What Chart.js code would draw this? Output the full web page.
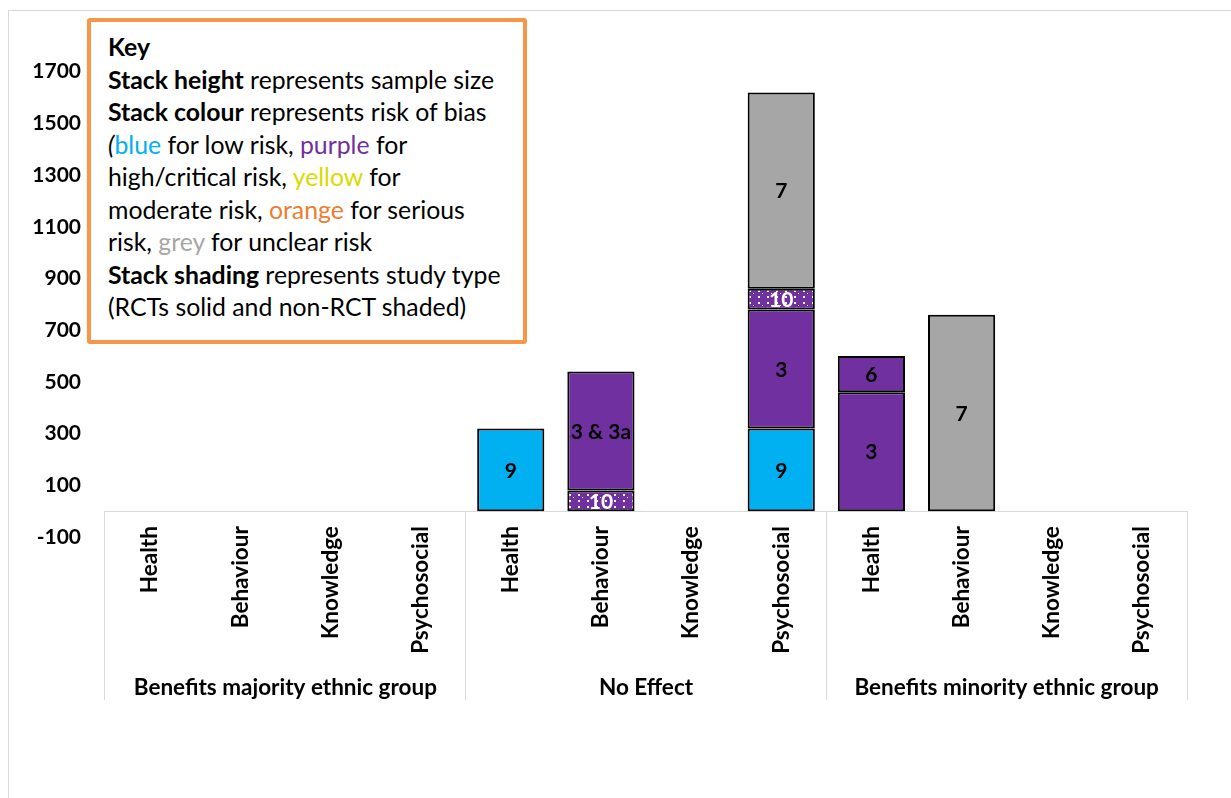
<!DOCTYPE html>
<html>
<head>
<meta charset="utf-8">
<title>Sample size by outcome and effect direction</title>
<script src="https://cdn.jsdelivr.net/npm/chart.js@4/dist/chart.umd.min.js"></script>
<style>
  html, body { margin: 0; padding: 0; background: #fff; }
  #wrap { position: relative; width: 1231px; height: 798px; overflow: hidden; }
  #frame { position: absolute; left: 8px; top: 10px; width: 1400px; height: 1000px;
           border-top: 1px solid #d9d9d9; border-left: 1px solid #d9d9d9; }
  #chart { position: absolute; left: 0; top: 0; }
  #key { position: absolute; left: 87px; top: 18px; width: 440px; height: 326px;
         box-sizing: border-box; border: 4px solid #F79646; border-radius: 3px; background: #fff;
         padding: 9px 0 0 17px; font-family: Lato, "Open Sans", sans-serif; font-size: 24.8px;
         line-height: 32.5px; color: #000; white-space: nowrap; }
  #key b { font-weight: 700; }
  .c-blue { color: #00B0F0; }
  .c-purple { color: #7030A0; }
  .c-yellow { color: #DADA00; }
  .c-orange { color: #ED7D31; }
  .c-grey { color: #A6A6A6; }
</style>
</head>
<body>
<div id="wrap">
  <div id="frame"></div>
  <canvas id="chart" width="1231" height="798"></canvas>
  <div id="key">
    <div><b>Key</b></div>
    <div><b>Stack height</b> represents sample size</div>
    <div><b>Stack colour</b> represents risk of bias</div>
    <div><i>(</i><span class="c-blue">blue</span> for low risk, <span class="c-purple">purple</span> for</div>
    <div>high/critical risk, <span class="c-yellow">yellow</span> for</div>
    <div>moderate risk, <span class="c-orange">orange</span> for serious</div>
    <div>risk, <span class="c-grey">grey</span> for unclear risk</div>
    <div><b>Stack shading</b> represents study type</div>
    <div>(RCTs solid and non-RCT shaded)</div>
  </div>
</div>
<script>
// Outcome categories within each effect-direction group
const categories = [
  'Health', 'Behaviour', 'Knowledge', 'Psychosocial',
  'Health', 'Behaviour', 'Knowledge', 'Psychosocial',
  'Health', 'Behaviour', 'Knowledge', 'Psychosocial'
];
const groups = ['Benefits majority ethnic group', 'No Effect', 'Benefits minority ethnic group'];
const yTickValues = [-100, 100, 300, 500, 700, 900, 1100, 1300, 1500, 1700];

// Sample size contributed by each study (stacked bottom to top in this order)
const study9      = [null, null, null, null,  320, null, null, 320,  null, null, null, null];
const study3      = [null, null, null, null,  null, null, null, 460,  460, null, null, null];
const study10     = [null, null, null, null,  null, 80,   null, 80,   null, null, null, null];
const study3and3a = [null, null, null, null,  null, 460,  null, null, null, null, null, null];
const study6      = [null, null, null, null,  null, null, null, null, 140, null, null, null];
const study7      = [null, null, null, null,  null, null, null, 760,  null, 760,  null, null];

const BLUE = '#00B0F0', PURPLE = '#7030A0', GREY = '#A6A6A6';

// Purple fill with white dots for non-randomised studies
function dottedFill() {
  const c = document.createElement('canvas');
  c.width = 9; c.height = 12;
  const g = c.getContext('2d');
  g.fillStyle = PURPLE; g.fillRect(0, 0, 9, 12);
  g.fillStyle = '#ffffff';
  g.fillRect(2, 2, 2, 2);
  g.fillRect(2, 8, 2, 2);
  g.fillRect(6, 5, 1, 1);
  return g.createPattern(c, 'repeat');
}

// Study number written in the middle of each stack segment
const segmentLabels = {
  id: 'segmentLabels',
  afterDatasetsDraw(chart) {
    const ctx = chart.ctx;
    chart.data.datasets.forEach((ds, i) => {
      const meta = chart.getDatasetMeta(i);
      meta.data.forEach((bar, j) => {
        if (ds.data[j] == null) return;
        const p = bar.getProps(['x', 'y', 'base'], true);
        ctx.save();
        ctx.font = 'bold 21px Lato';
        ctx.fillStyle = ds.labelColor;
        ctx.textAlign = 'center';
        ctx.textBaseline = 'middle';
        ctx.fillText(ds.label, p.x, (p.y + p.base) / 2 + 1);
        ctx.restore();
      });
    });
  }
};

function makeDataset(label, data, fill, labelColor) {
  return {
    label, data, labelColor,
    backgroundColor: fill,
    borderColor: '#000',
    borderWidth: 2,
    borderSkipped: false,
    barPercentage: 0.745,
    categoryPercentage: 1.0,
    xAxisID: 'x'
  };
}

function draw() {
  const dots = dottedFill();
  new Chart(document.getElementById('chart'), {
    type: 'bar',
    data: {
      labels: categories,
      datasets: [
        makeDataset('9', study9, BLUE, '#000'),
        makeDataset('3', study3, PURPLE, '#000'),
        makeDataset('10', study10, dots, '#fff'),
        makeDataset('3 & 3a', study3and3a, PURPLE, '#000'),
        makeDataset('6', study6, PURPLE, '#000'),
        makeDataset('7', study7, GREY, '#000')
      ]
    },
    options: {
      responsive: false,
      animation: false,
      layout: { padding: { left: 0, right: 44, top: 20, bottom: 261 } },
      plugins: { legend: { display: false }, tooltip: { enabled: false } },
      scales: {
        y: {
          stacked: true,
          min: -100,
          max: 1900,
          afterBuildTicks: s => { s.ticks = yTickValues.map(v => ({ value: v })); },
          afterFit: s => { s.width = 105; s.paddingTop = 0; s.paddingBottom = 0; },
          grid: { display: false, drawTicks: false },
          border: { display: false },
          ticks: {
            padding: 24, color: '#000',
            font: { family: 'Lato', weight: 'bold', size: 21 },
            callback: v => String(v)
          }
        },
        x: {
          stacked: true,
          position: { y: 0 },
          offset: true,
          grid: { display: false, drawTicks: false },
          border: { display: true, color: '#d9d9d9', width: 1 },
          ticks: {
            autoSkip: false, minRotation: 90, maxRotation: 90, padding: 15,
            color: '#000', font: { family: 'Lato', weight: 'bold', size: 22.5 }
          }
        },
        x2: {
          type: 'category',
          labels: groups,
          position: { y: 0 },
          offset: true,
          grid: { display: true, offset: true, drawOnChartArea: false, drawTicks: true,
                  tickLength: 189, color: '#d9d9d9', lineWidth: 1 },
          border: { display: false },
          ticks: { padding: -26, color: '#000', font: { family: 'Lato', weight: 'bold', size: 22.5 } }
        }
      }
    },
    plugins: [segmentLabels]
  });
}

if (document.fonts && document.fonts.load) {
  Promise.all([
    document.fonts.load('bold 21px Lato'),
    document.fonts.load('20px Lato')
  ]).then(draw, draw);
} else {
  draw();
}
</script>
</body>
</html>
